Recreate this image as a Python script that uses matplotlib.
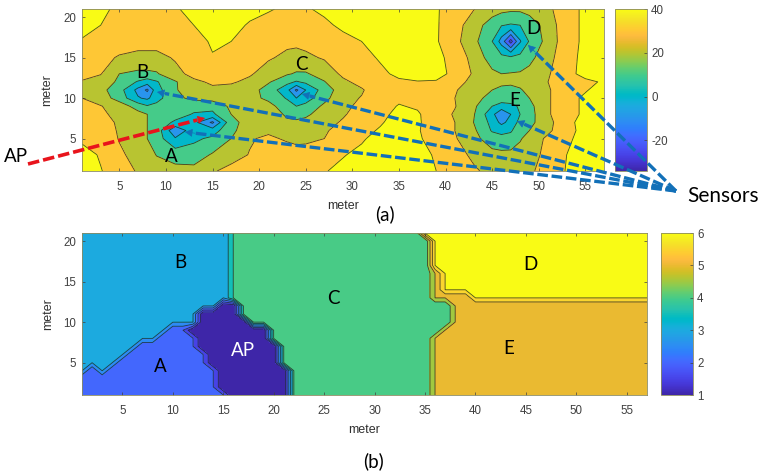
"""Received signal map and strongest-sensor zone map, panels (a) and (b)."""

import numpy as np
import matplotlib
matplotlib.use("Agg")
import matplotlib.pyplot as plt
from matplotlib.cm import ScalarMappable
from matplotlib.colors import LinearSegmentedColormap, Normalize

plt.rcParams.update({
    "font.family": "Liberation Sans",
    "font.size": 8.3,
    "axes.unicode_minus": False,
})

W, H = 762, 476

PARULA = [
    (.2422, .1504, .6603), (.2504, .1650, .7076), (.2578, .1818, .7511), (.2647, .1978, .7952),
    (.2706, .2147, .8364), (.2751, .2342, .8710), (.2783, .2559, .8991), (.2803, .2782, .9221),
    (.2813, .3006, .9414), (.2810, .3228, .9579), (.2795, .3447, .9717), (.2760, .3667, .9829),
    (.2699, .3892, .9906), (.2602, .4123, .9952), (.2440, .4358, .9988), (.2206, .4603, .9973),
    (.1963, .4847, .9892), (.1834, .5074, .9798), (.1786, .5289, .9682), (.1764, .5499, .9520),
    (.1687, .5703, .9359), (.1540, .5902, .9218), (.1460, .6091, .9079), (.1380, .6276, .8973),
    (.1248, .6459, .8883), (.1113, .6635, .8763), (.0952, .6798, .8598), (.0689, .6948, .8394),
    (.0297, .7082, .8163), (.0036, .7203, .7917), (.0067, .7312, .7660), (.0433, .7411, .7394),
    (.0964, .7500, .7120), (.1408, .7584, .6842), (.1717, .7670, .6554), (.1938, .7758, .6251),
    (.2161, .7843, .5923), (.2470, .7918, .5567), (.2906, .7973, .5188), (.3406, .8008, .4789),
    (.3909, .8029, .4354), (.4456, .8024, .3909), (.5044, .7993, .3480), (.5616, .7942, .3045),
    (.6174, .7876, .2612), (.6720, .7793, .2227), (.7242, .7698, .1910), (.7738, .7598, .1646),
    (.8203, .7498, .1535), (.8634, .7406, .1596), (.9035, .7330, .1774), (.9393, .7288, .2100),
    (.9728, .7298, .2394), (.9956, .7434, .2371), (.9970, .7659, .2199), (.9952, .7893, .2028),
    (.9892, .8136, .1885), (.9786, .8386, .1766), (.9676, .8639, .1643), (.9610, .8890, .1537),
    (.9597, .9135, .1423), (.9628, .9373, .1265), (.9691, .9606, .1064), (.9769, .9839, .0805),
]
cmap = LinearSegmentedColormap.from_list("parula", PARULA, N=256)

# panel (a): signal level
SIGNAL_X = [1, 3, 5, 7, 8, 9, 11, 13, 15, 17, 19, 21, 23, 24, 25, 27, 29,
            31, 33, 35, 37, 39, 41, 43, 45, 46, 47, 48, 49, 51, 53, 55, 57]
SIGNAL_Y = [21, 19, 17, 15, 13, 12, 11, 10, 9, 8, 7, 6, 5, 3, 1]
SIGNAL = [
    [46, 42, 38, 36, 36, 36, 39, 43, 46, 45, 43, 41, 38, 38, 39, 42, 44, 46, 46, 46, 45, 41, 35, 30.5, 25, 23, 22, 22, 24, 28, 36, 42, 45],
    [44, 40, 37, 36, 36, 36, 38, 40, 43, 43, 39, 36, 35, 35, 35, 38, 42, 45, 46, 46, 45, 41, 34, 25, 15, 10.5, 9, 10, 14, 25, 36, 42, 45],
    [39, 36, 35, 34, 34, 34, 35, 37, 41, 40, 37, 34, 32, 32, 33, 35, 37, 40, 44, 45, 45, 41, 33, 23, 10, -4, -24, -1, 11, 24, 36, 42, 45],
    [36, 33, 29, 27, 27, 27, 31, 35, 39.5, 37, 34, 31, 28, 27, 28, 31, 34, 37, 41, 46, 46, 43, 36, 27, 15, 13, 12, 13, 17, 27, 36, 43, 46],
    [32, 30.5, 20, 18, 18, 19, 27, 33, 36, 34, 31, 26, 21, 19, 19, 24, 32, 36, 38, 42, 44, 44, 37, 29, 22, 20, 20.5, 21, 23, 29, 37, 43, 46],
    [29.5, 26, 18, 9, 5, 9, 19, 28, 31.5, 31, 28, 21, 13, 9, 12, 19.5, 28, 33, 37, 38.5, 39.5, 39, 34, 27, 24, 22, 22, 23, 25, 30, 35, 38, 41],
    [27, 23, 14, -3, -12, 6, 19, 26, 28, 27, 24, 16, 3, -12, 0, 15, 25, 29, 36, 38, 38, 38, 31, 24, 20, 18, 17, 19, 23, 29, 36, 39, 45],
    [30, 25, 16, 1, -2, 6, 18, 22, 24, 25, 23, 18, 9, 0, 5, 17, 27, 30.5, 36, 38.5, 38.5, 37, 30, 23, 17, 15, 14, 15, 20, 29, 36, 42, 46],
    [34, 30.5, 25, 16, 11, 13, 17, 14, 13, 22, 26, 23, 15, 10, 13, 22, 27, 33, 37, 40.5, 39, 36, 30.5, 22, 10, 6, 8, 11, 17, 29, 36, 42, 46],
    [37, 32, 27, 23, 20, 18, 15, 9, 8, 20, 25, 27, 18, 16, 18, 25, 29, 34, 38, 42, 41, 35, 29, 21, 3, -9, 0, 10, 16, 29, 36, 42, 46],
    [39, 34, 28.5, 23, 20, 17, 8, 3, -12, 17, 24, 26, 22, 22, 23, 27, 31, 36, 39, 44, 41, 36, 30, 20, 7, -3, 4, 13, 17, 27, 37, 44, 46],
    [38, 35, 29, 24, 20, 16, -8, 6, 5, 18, 25, 28, 25, 24, 25, 29, 33, 37, 41, 45, 40.5, 37, 30, 22, 9, 8, 9, 15, 20, 28, 37, 43, 46],
    [38, 36, 29.5, 25, 20, 15, 1, 8, 12, 20, 29, 32, 28.5, 27, 27, 30, 36, 39, 43, 45, 41, 37, 31, 23, 15, 12, 13, 19, 24, 32, 38, 44, 47],
    [44, 39, 31.5, 27, 25, 19.5, 16, 15, 21, 26, 30.5, 35, 36, 35, 36, 38, 39.5, 42, 45, 45, 43, 39, 34, 28, 23, 23, 23, 24, 26, 33, 40, 45, 47],
    [46, 40.5, 35, 29, 27, 26, 23, 23, 29, 33, 36, 38, 39, 39, 38, 39.5, 42, 45, 46, 46, 44, 40, 36, 31.5, 27, 26, 26, 27, 28, 35, 40.5, 45, 47],
]
SIGNAL_LEVELS = [-30, -20, -10, 0, 10, 20, 30, 40]
SIGNAL_CLIM = (-34, 40)
SIGNAL_TOP = 100
SIGNAL_TICKS = [-20, 0, 20, 40]

# panel (b): index of the strongest source at each metre, as (index, last x) runs
AP, A, B, C, E, D = 1, 2, 3, 4, 5, 6
ZONE_RUNS = {
    21: [(B, 15), (C, 34), (D, 57)],
    20: [(B, 15), (C, 35), (D, 57)],
    19: [(B, 15), (C, 35), (D, 57)],
    18: [(B, 15), (C, 35), (D, 57)],
    17: [(B, 15), (C, 35), (D, 57)],
    16: [(B, 15), (C, 35), (E, 36), (D, 57)],
    15: [(B, 15), (C, 35), (E, 36), (D, 57)],
    14: [(B, 15), (C, 35), (E, 36), (D, 57)],
    13: [(B, 15), (C, 35), (E, 39), (D, 57)],
    12: [(B, 14), (AP, 16), (C, 37), (E, 57)],
    11: [(B, 12), (AP, 16), (C, 37), (E, 57)],
    10: [(B, 12), (AP, 17), (C, 37), (E, 57)],
    9: [(B, 9), (A, 11), (AP, 19), (C, 36), (E, 57)],
    8: [(B, 8), (A, 12), (AP, 19), (C, 35), (E, 57)],
    7: [(B, 6), (A, 12), (AP, 20), (C, 35), (E, 57)],
    6: [(B, 5), (A, 13), (AP, 20), (C, 35), (E, 57)],
    5: [(B, 4), (A, 13), (AP, 20), (C, 35), (E, 57)],
    4: [(B, 1), (A, 2), (B, 3), (A, 14), (AP, 21), (C, 35), (E, 57)],
    3: [(A, 14), (AP, 21), (C, 35), (E, 57)],
    2: [(A, 14), (AP, 21), (C, 35), (E, 57)],
    1: [(A, 15), (AP, 21), (C, 35), (E, 57)],
}
ZONE_LEVELS = [1, 1.5, 2, 2.5, 3, 3.5, 4, 4.5, 5, 5.5, 6]
ZONE_CLIM = (1, 6)
ZONE_TICKS = [1, 2, 3, 4, 5, 6]

X_TICKS = list(range(5, 56, 5))
Y_TICKS = [5, 10, 15, 20]

# overlay annotation, in image pixels
SENSOR_TAIL = (676, 191)
SENSOR_TIPS = [(157, 92), (185, 132), (302, 94), (528, 45), (517, 121)]
AP_ARROW = ((28, 164), (205, 118))
BLUE = "#1270B8"
RED = "#E8141C"


def px_axes(fig, left, top, right, bottom):
    return fig.add_axes([left / W, 1 - bottom / H, (right - left) / W, (bottom - top) / H])


def style_axes(ax, ylabel_x):
    ax.set_xlim(1, 57)
    ax.set_ylim(1, 21)
    ax.set_xticks(X_TICKS)
    ax.set_yticks(Y_TICKS)
    ax.tick_params(direction="in", length=2.5, width=0.5, top=True, right=True,
                   colors="#404040")
    ax.tick_params(axis="x", pad=7)
    ax.tick_params(axis="y", pad=4)
    for s in ax.spines.values():
        s.set_linewidth(0.6)
        s.set_color("#8a8a60")
    ax.set_xlabel("meter", fontsize=9, color="#303030", labelpad=5)
    ax.set_ylabel("meter", fontsize=9, color="#303030")
    ax.yaxis.set_label_coords(ylabel_x, 0.5)


def style_colorbar(cax, clim, ticks):
    sm = ScalarMappable(Normalize(*clim), cmap)
    cb = plt.colorbar(sm, cax=cax, ticks=ticks)
    cb.ax.tick_params(direction="in", length=2.5, width=0.5, colors="#404040", pad=3)
    cb.outline.set_linewidth(0.6)
    cb.outline.set_edgecolor("#8a8a60")
    cb.ax.set_yticklabels([str(t) for t in ticks])


def filled_contours(ax, x, y, z, levels, clim, top, lw):
    # fill every band with the colour of its lower level
    norm = Normalize(*clim)
    edges = [v - 0.01 for v in levels] + [top]
    colors = [cmap(norm(v)) for v in levels]
    ax.contourf(x, y, z, levels=edges, colors=colors)
    ax.contour(x, y, z, levels=edges[1:-1], colors="#202020", linewidths=lw, alpha=0.8,
               negative_linestyles="solid")


def zone_grid():
    xs = np.arange(1, 58)
    ys = np.arange(1, 22)
    grid = np.zeros((len(ys), len(xs)))
    for j, yv in enumerate(ys):
        start = 0
        for idx, last in ZONE_RUNS[yv]:
            grid[j, start:last] = idx
            start = last
    return xs, ys, grid


def draw_arrow(ov, tail, tip, color, lw):
    tail = np.array(tail, float)
    tip = np.array(tip, float)
    d = (tip - tail) / np.hypot(*(tip - tail))
    ov.plot([tail[0], tip[0] - d[0] * 8], [tail[1], tip[1] - d[1] * 8], color=color,
            lw=lw, ls=(0, (3.2, 1.1)), solid_capstyle="butt")
    ov.annotate("", xy=tip, xytext=tip - d * 10,
                arrowprops=dict(arrowstyle="-|>,head_length=0.55,head_width=0.3",
                                color=color, lw=0.5, shrinkA=0, shrinkB=0))


def main():
    fig = plt.figure(figsize=(W / 100, H / 100), dpi=100)

    ax1 = px_axes(fig, 82, 9, 604, 171)
    filled_contours(ax1, SIGNAL_X, SIGNAL_Y, np.array(SIGNAL), SIGNAL_LEVELS,
                    SIGNAL_CLIM, SIGNAL_TOP, 0.6)
    style_axes(ax1, -0.055)
    style_colorbar(px_axes(fig, 615, 9, 647, 171), SIGNAL_CLIM, SIGNAL_TICKS)

    ax2 = px_axes(fig, 82, 233, 647, 395)
    xs, ys, zones = zone_grid()
    filled_contours(ax2, xs, ys, zones, ZONE_LEVELS, ZONE_CLIM, 7, 0.6)
    style_axes(ax2, -0.05)
    style_colorbar(px_axes(fig, 661, 233, 693, 395), ZONE_CLIM, ZONE_TICKS)

    # transparent full-figure layer in image pixels for arrows and callouts
    ov = fig.add_axes([0, 0, 1, 1])
    ov.set_xlim(0, W)
    ov.set_ylim(H, 0)
    ov.axis("off")
    ov.patch.set_alpha(0)

    for tip in SENSOR_TIPS:
        draw_arrow(ov, SENSOR_TAIL, tip, BLUE, 2.4)
    draw_arrow(ov, AP_ARROW[0], AP_ARROW[1], RED, 2.6)

    label = dict(family="Lato", ha="center", va="center", color="black")
    for s, px, py in [("B", 142, 73), ("A", 171, 156), ("C", 301, 64), ("D", 533, 29),
                      ("E", 515, 101), ("B", 180, 262), ("A", 160, 367), ("C", 333, 298),
                      ("D", 530, 265), ("E", 509, 348), ("(a)", 385, 214), ("(b)", 374, 461)]:
        ov.text(px, py, s, fontsize=13.5, **label)
    ov.text(243, 350, "AP", fontsize=13.5, family="Lato", ha="center", va="center", color="white")
    ov.text(16, 157, "AP", fontsize=13.5, **label)
    ov.text(723, 196, "Sensors", fontsize=15, **label)

    fig.savefig("out.png", dpi=100, facecolor="white")


if __name__ == "__main__":
    main()
